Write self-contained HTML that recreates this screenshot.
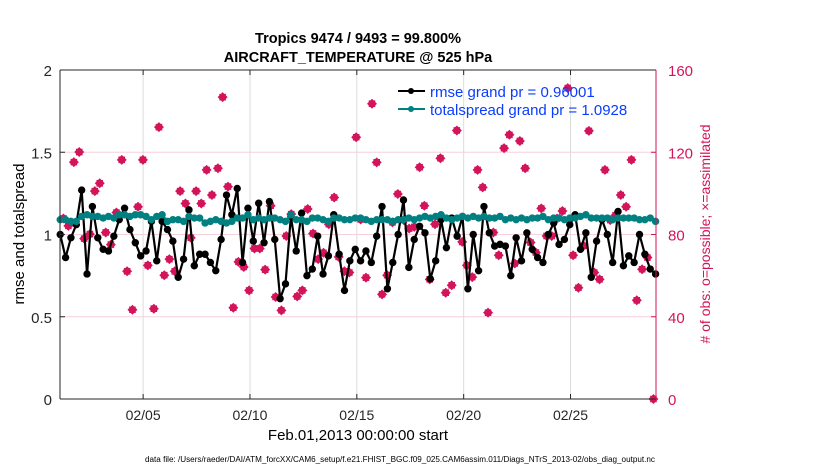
<!DOCTYPE html>
<html><head><meta charset="utf-8">
<style>
body{margin:0;background:#fff;}
svg{display:block;font-family:"Liberation Sans",Arial,sans-serif;}
</style></head>
<body>
<svg id="chart" width="830" height="470" viewBox="0 0 830 470" xmlns="http://www.w3.org/2000/svg">
<rect x="0" y="0" width="830" height="470" fill="#fff"/>
<text x="358" y="43" text-anchor="middle" font-size="14.5" font-weight="bold" fill="#000">Tropics 9474 / 9493 = 99.800%</text>
<text x="358" y="62" text-anchor="middle" font-size="14.5" font-weight="bold" fill="#000">AIRCRAFT_TEMPERATURE @ 525 hPa</text>
<g id="grid"></g>
<g id="marks"></g>
<g id="axes"></g>
<text transform="translate(24,234) rotate(-90)" text-anchor="middle" font-size="15" fill="#000">rmse and totalspread</text>
<text transform="translate(710,234) rotate(-90)" text-anchor="middle" font-size="14" fill="#d4145a">
# of obs: o=possible; ×=assimilated</text>
<text x="358" y="440" text-anchor="middle" font-size="15" fill="#000">Feb.01,2013 00:00:00 start</text>
<text x="400" y="462" text-anchor="middle" font-size="8" textLength="510" lengthAdjust="spacingAndGlyphs" fill="#000">data file: /Users/raeder/DAI/ATM_forcXX/CAM6_setup/f.e21.FHIST_BGC.f09_025.CAM6assim.011/Diags_NTrS_2013-02/obs_diag_output.nc</text>
<g>
 <line x1="398" y1="91" x2="425" y2="91" stroke="#000" stroke-width="2"/>
 <circle cx="411" cy="91" r="3" fill="#000"/>
 <text x="430" y="97" font-size="15" fill="#0a3cff">rmse grand pr = 0.96001</text>
 <line x1="398" y1="109" x2="425" y2="109" stroke="#008080" stroke-width="2"/>
 <circle cx="411" cy="109" r="3" fill="#008080"/>
 <text x="430" y="115" font-size="15" fill="#0a3cff">totalspread grand pr = 1.0928</text>
</g>
</svg>
<script>
const rmseVals=[1.0,0.86,0.98,1.06,1.27,0.76,1.17,0.98,0.91,0.90,0.99,1.09,1.16,1.03,0.95,0.87,0.90,1.08,0.84,1.08,1.03,0.96,0.74,0.85,1.15,0.81,0.88,0.88,0.83,0.78,0.97,1.24,1.12,1.28,0.83,1.16,0.96,1.19,0.95,1.20,
0.97,0.61,0.70,1.11,0.90,1.13,0.75,0.79,0.99,0.76,0.87,1.12,0.88,0.66,0.84,0.91,0.84,0.90,0.83,0.99,1.17,0.67,0.83,1.0,1.21,0.80,0.97,1.05,1.01,0.73,0.84,1.09,0.92,1.10,0.99,1.11,0.67,
1.0,0.78,1.17,1.01,0.93,0.94,0.93,0.75,0.98,0.84,1.01,0.91,0.86,0.83,1.0,1.07,0.94,0.97,1.06,1.12,0.91,1.01,0.74,0.96,1.09,1.0,0.83,1.14,0.81,0.87,0.83,1.0,0.88,0.79,0.76];
const spreadVals=[1.09,1.09,1.08,1.08,1.11,1.12,1.11,1.11,1.10,1.11,1.10,1.12,1.12,1.11,1.12,1.12,1.11,1.09,1.11,1.12,1.08,1.09,1.09,1.08,1.11,1.10,1.10,1.07,1.08,1.09,1.08,1.07,1.08,1.10,1.10,1.12,1.09,1.10,1.09,1.10,
1.10,1.09,1.08,1.12,1.09,1.09,1.08,1.10,1.10,1.09,1.08,1.10,1.10,1.09,1.09,1.10,1.10,1.09,1.08,1.09,1.09,1.09,1.08,1.09,1.09,1.10,1.09,1.10,1.11,1.10,1.11,1.12,1.10,1.09,1.10,1.11,1.10,
1.11,1.10,1.11,1.10,1.10,1.11,1.09,1.10,1.09,1.10,1.09,1.10,1.10,1.11,1.09,1.10,1.10,1.09,1.10,1.10,1.11,1.12,1.10,1.10,1.10,1.10,1.09,1.10,1.10,1.10,1.10,1.09,1.09,1.10,1.08];
const obsDays=[0.27,0.50,0.76,1.01,1.24,1.51,1.74,1.97,2.25,2.49,2.75,3.00,3.25,3.50,3.76,3.99,4.22,4.50,4.74,4.99,5.23,5.48,5.73,5.98,6.23,6.48,6.72,6.97,7.22,7.50,7.72,7.97,8.22,8.46,8.71,8.96,9.21,9.46,9.71,
9.97,10.20,10.47,10.70,10.93,11.21,11.45,11.70,11.95,12.19,12.44,12.69,12.94,13.15,13.42,13.65,13.97,14.18,14.43,14.71,14.93,15.18,15.42,15.67,15.92,16.20,16.45,16.69,16.94,17.16,17.41,17.66,17.91,18.16,18.44,18.68,18.93,19.15,
19.40,19.65,19.89,20.14,20.39,20.64,20.89,21.14,21.39,21.63,21.88,22.13,22.38,22.63,22.88,23.12,23.37,23.62,23.87,24.12,24.37,24.61,24.86,25.11,25.36,25.61,25.86,26.11,26.35,26.60,26.85,27.10,27.35,27.60,27.88];
const obsCounts=[87.8,84.2,115.2,120.1,78.0,80.2,101.1,104.9,81.0,75.1,90.7,116.3,62.1,43.4,93.5,116.3,65.0,43.9,132.2,60.2,68.0,62.1,101.1,95.1,78.4,101.1,95.1,111.4,99.2,112.2,146.8,103.3,44.4,66.7,64.2,52.8,73.2,73.2,62.9,
94.0,49.6,43.1,79.3,89.9,49.9,52.8,92.4,80.5,68.0,71.1,85.0,98.0,69.1,62.1,61.5,127.3,87.3,59.0,143.6,115.1,50.9,60.2,85.9,99.7,87.0,82.9,83.7,112.7,94.0,58.2,85.0,117.1,51.7,55.3,130.6,76.4,65.0,
59.3,111.4,102.9,42.0,81.0,69.9,122.0,128.5,65.9,125.5,112.2,76.1,71.2,92.7,79.3,79.3,87.8,91.4,151.2,69.9,54.1,74.5,130.4,61.5,58.2,111.4,87.0,89.4,99.2,93.5,116.3,48.0,63.1,68.8,0];
const xTickDays=[4,9,14,19,24];
const xTickLabels=["02/05","02/10","02/15","02/20","02/25"];
const yLeftTicks=[0,0.5,1,1.5,2];
const yRightTicks=[0,40,80,120,160];
const t0=0.12, dt=0.251;

const L=60,R=656,T=70,B=399, XMIN=0.11, XMAX=28.0;
const NS="http://www.w3.org/2000/svg";
const xs=d=>L+(d-XMIN)/(XMAX-XMIN)*(R-L);
const yl=v=>B-v/2*(B-T);
const yr=v=>B-v/160*(B-T);
function mk(tag,attrs,parent){const e=document.createElementNS(NS,tag);for(const k in attrs)e.setAttribute(k,attrs[k]);parent.appendChild(e);return e;}
const grid=document.getElementById('grid'),marks=document.getElementById('marks'),axes=document.getElementById('axes');

xTickDays.forEach((d,i)=>{
 const g=mk('line',{x1:xs(d),x2:xs(d),y1:T,y2:B,stroke:'#dcdcdc','stroke-width':1},grid);
 
 
 const t=mk('line',{x1:xs(d),x2:xs(d),y1:B,y2:B-5,stroke:'#262626','stroke-width':1},axes);
 
 
 const tt=mk('line',{x1:xs(d),x2:xs(d),y1:T,y2:T+5,stroke:'#262626','stroke-width':1},axes);
 
 
 const l=mk('text',{x:xs(d),y:B+21,'text-anchor':'middle','font-size':14,fill:'#262626'},axes);
 l.textContent=xTickLabels[i];
 
 
});
yRightTicks.forEach(v=>{
 if(v>0&&v<160){const g=mk('line',{x1:L,x2:R,y1:yr(v),y2:yr(v),stroke:'#f7d0dc','stroke-width':1},grid);
 
 }
 const t=mk('line',{x1:R,x2:R-5,y1:yr(v),y2:yr(v),stroke:'#d4145a'},axes);
 
 
 const l=mk('text',{x:R+12,y:yr(v)+6,'font-size':15,fill:'#d4145a'},axes);
 l.textContent=v;
 
 
});
yLeftTicks.forEach(v=>{
 const t=mk('line',{x1:L,x2:L+5,y1:yl(v),y2:yl(v),stroke:'#262626'},axes);
 
 
 const l=mk('text',{x:L-8,y:yl(v)+6,'text-anchor':'end','font-size':15,fill:'#262626'},axes);
 l.textContent=v;
 
 
});
let a;
a=mk('line',{x1:L,x2:R,y1:T,y2:T,stroke:'#262626'},axes);


a=mk('line',{x1:L,x2:R,y1:B,y2:B,stroke:'#262626'},axes);


a=mk('line',{x1:L,x2:L,y1:T,y2:B,stroke:'#262626'},axes);


a=mk('line',{x1:R,x2:R,y1:T,y2:B,stroke:'#d4145a'},axes);



obsDays.forEach((d,i)=>{
 const x=xs(d),y=yr(obsCounts[i]);
 const s=mk('path',{d:`M${x-5},${y}L${x},${y-5}L${x+5},${y}L${x},${y+5}Z M${x-3.3},${y-3.3}h6.6v6.6h-6.6Z`,fill:'#d4145a'},marks);
 
 
});
function series(vals,color,name){
 const pts=vals.map((v,i)=>[xs(t0+i*dt),yl(v)]);
 const p=mk('polyline',{points:pts.map(q=>q.join(',')).join(' '),fill:'none',stroke:color,'stroke-width':2.2},marks);
 
 
 pts.forEach(q=>{
  const c=mk('circle',{cx:q[0],cy:q[1],r:3.7,fill:color},marks);
  
  
 });
}
series(rmseVals,'#000','rmse');
series(spreadVals,'#008080','totalspread');
</script>
</body></html>
